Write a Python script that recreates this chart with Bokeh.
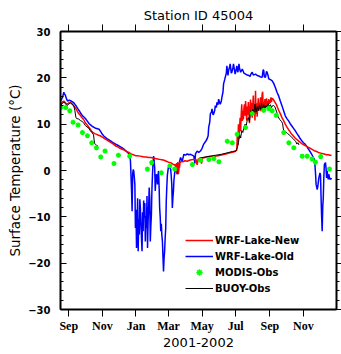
from bokeh.plotting import figure
from bokeh.models import Range1d, LinearAxis, FixedTicker, SingleIntervalTicker, Legend, LegendItem
from bokeh.embed import file_html
from bokeh.resources import INLINE

# x = day number counted from 2001-01-01 (day 365 = 2002-01-01)
month_days = [243, 304, 365, 424, 485, 546, 608, 669]
month_labels = ["Sep", "Nov", "Jan", "Mar", "May", "Jul", "Sep", "Nov"]
y_ticks = [-30, -20, -10, 0, 10, 20, 30]
y_tick_labels = ["\u221230", "\u221220", "\u221210", "0", "10", "20", "30"]

wrf_new = [
    (228, 14.3), (231, 14.7), (234, 15.0), (237, 14.6), (240, 14.3), (243, 14.6), (246, 14.7),
    (249, 14.4), (252, 14.0), (255, 13.5), (258, 12.9), (261, 12.3), (264, 11.9), (267, 11.4),
    (270, 11.0), (273, 10.3), (276, 9.9), (279, 9.4), (282, 8.9), (285, 8.4), (288, 8.1),
    (291, 7.9), (294, 7.8), (297, 7.6), (300, 7.5), (304, 7.2), (308, 6.9), (312, 6.6),
    (316, 6.3), (320, 6.0), (324, 5.7), (328, 5.3), (332, 5.1), (336, 4.8), (340, 4.6),
    (344, 4.4), (348, 4.1), (352, 3.9), (356, 3.6), (360, 3.4), (364, 3.2), (368, 3.2),
    (372, 3.1), (376, 3.0), (380, 2.9), (384, 2.9), (388, 2.8), (392, 2.8), (396, 2.7),
    (400, 2.6), (404, 2.5), (408, 2.4), (412, 2.3), (416, 2.2), (420, 2.0), (424, 1.8),
    (428, 1.7), (432, 1.4), (436, 1.1), (437, 1.4), (438, -0.5), (439, 1.6), (440, 0.2),
    (441, 1.8), (442, -0.8), (443, 1.6), (444, 0.6), (445, 1.8), (447, 1.9), (450, 1.9),
    (454, 2.1), (458, 2.0), (462, 2.2), (466, 2.3), (470, 2.4), (474, 2.4), (476, 1.2),
    (478, 2.5), (482, 2.6), (484, 1.5), (486, 2.7), (490, 2.8), (494, 2.9), (498, 3.0),
    (502, 3.0), (506, 3.1), (510, 3.1), (514, 3.2), (518, 3.3), (522, 3.4), (526, 3.5),
    (530, 3.6), (534, 3.8), (538, 3.9), (542, 4.0), (546, 4.2), (548, 4.4), (549, 7.8),
    (550, 5.5), (551, 10.0), (552, 6.8), (553, 9.0), (554, 11.4), (555, 8.5), (556, 12.0),
    (557, 14.3), (558, 10.7), (559, 12.9), (560, 11.0), (561, 13.5), (562, 14.3), (563, 11.8),
    (564, 15.0), (565, 12.8), (566, 10.8), (567, 13.8), (568, 12.0), (569, 14.8), (570, 12.5),
    (571, 10.2), (572, 13.2), (573, 15.3), (574, 12.0), (575, 14.6), (576, 11.4), (577, 13.9),
    (578, 16.2), (579, 12.6), (580, 14.2), (581, 10.8), (582, 17.2), (583, 12.2), (584, 14.5),
    (585, 11.6), (586, 13.8), (587, 15.6), (588, 12.9), (589, 14.6), (590, 13.0), (591, 15.8),
    (592, 12.8), (593, 14.0), (594, 16.5), (595, 17.0), (596, 12.6), (597, 14.8), (598, 13.4),
    (599, 15.4), (600, 13.6), (601, 14.6), (602, 15.6), (603, 13.8), (604, 15.0), (605, 14.2),
    (606, 15.4), (607, 14.4), (608, 15.2), (609, 14.6), (610, 15.8), (611, 14.8), (612, 15.6),
    (614, 15.4), (616, 15.0), (618, 14.6), (620, 14.2), (622, 13.6), (624, 13.0), (626, 12.5),
    (628, 12.0), (630, 11.4), (632, 11.0), (634, 10.5), (636, 10.0), (638, 9.6), (640, 9.2),
    (642, 8.8), (644, 8.5), (646, 8.1), (648, 7.8), (651, 7.4), (654, 7.0), (657, 6.7),
    (660, 6.4), (663, 6.1), (666, 5.8), (669, 5.6), (672, 5.4), (675, 5.2), (678, 5.0),
    (681, 4.8), (684, 4.6), (687, 4.4), (690, 4.2), (693, 4.1), (696, 3.9), (699, 3.8),
    (702, 3.7), (705, 3.6), (708, 3.5), (711, 3.4), (714, 3.4), (717, 3.3), (720, 3.3),
]

wrf_old = [
    (228, 15.0), (230, 15.4), (232, 15.9), (234, 16.9), (235, 16.6), (237, 16.2), (239, 15.4),
    (241, 15.0), (244, 15.2), (247, 15.0), (250, 14.8), (253, 14.5), (256, 14.0), (259, 13.4),
    (262, 12.9), (265, 12.3), (268, 11.8), (271, 11.5), (274, 11.1), (277, 10.6), (280, 10.1),
    (283, 9.8), (286, 9.5), (289, 9.3), (292, 9.1), (295, 9.0), (298, 8.9), (301, 8.4),
    (304, 7.8), (307, 7.4), (310, 7.1), (313, 6.8), (316, 6.6), (319, 6.4), (322, 6.1),
    (325, 5.9), (328, 5.7), (331, 5.5), (334, 5.3), (337, 5.1), (340, 4.9), (343, 4.6),
    (346, 4.3), (349, 4.0), (352, 3.6), (354, 3.4), (355, 2.0), (356, -1.2), (357, -4.4),
    (358, -8.8), (359, -0.8), (360, 0.2), (361, -0.1), (362, -1.5), (363, -3.0), (364, -12.4),
    (365, -8.5), (366, -16.7), (367, -12.4), (368, -6.0), (369, -17.4), (370, -10.5),
    (371, -13.8), (372, -6.2), (373, -8.1), (374, -11.7), (375, -14.5), (376, -17.4),
    (377, -9.0), (378, -13.1), (379, -6.5), (380, -10.2), (381, -7.0), (382, -15.3),
    (383, -9.8), (384, -12.4), (385, -5.5), (386, -16.7), (387, -11.0), (388, -8.1),
    (389, -3.7), (390, -6.0), (391, -15.3), (392, -12.0), (393, -9.5), (394, -4.0),
    (395, -0.8), (396, 1.5), (397, 3.1), (398, 2.1), (399, 0.5), (400, -4.4), (401, -2.0),
    (402, -0.8), (403, -1.5), (404, -3.0), (405, -1.0), (406, -0.1), (407, -3.5), (408, -8.1),
    (409, -10.0), (410, -13.1), (411, -11.5), (412, -14.0), (413, -15.3), (414, -18.5),
    (415, -21.8), (416, -19.0), (417, -17.4), (418, -14.5), (419, -12.4), (420, -6.6),
    (421, -3.5), (422, -1.0), (423, -0.1), (424, 0.8), (425, 1.0), (426, 0.6), (427, 0.5),
    (428, 0.3), (429, -1.2), (430, -3.0), (431, -8.1), (432, -6.0), (433, -4.4), (434, -2.0),
    (435, -0.8), (436, 0.2), (437, 0.6), (438, 1.0), (439, -0.5), (440, -0.8), (441, 0.5),
    (442, -0.5), (443, 1.3), (445, 2.4), (446, 2.8), (448, 2.2), (449, 2.1), (451, 3.0),
    (452, 3.5), (455, 3.3), (458, 3.6), (461, 3.4), (464, 3.5), (467, 3.3), (470, 3.1),
    (472, 1.5), (473, 3.6), (476, 4.2), (479, 3.9), (482, 4.2), (485, 4.8), (488, 5.7),
    (491, 6.2), (494, 6.8), (496, 7.5), (497, 9.3), (499, 10.5), (500, 12.2), (502, 12.6),
    (503, 13.3), (505, 12.0), (506, 12.2), (508, 13.0), (509, 14.0), (511, 13.6), (512, 14.7),
    (514, 14.2), (515, 15.4), (517, 14.6), (518, 14.3), (520, 15.0), (521, 15.8), (523, 17.0),
    (524, 18.7), (526, 19.6), (527, 20.1), (529, 21.0), (530, 22.6), (532, 20.5), (533, 21.5),
    (535, 22.4), (536, 23.0), (538, 21.0), (539, 21.2), (541, 22.2), (542, 23.0), (544, 21.5),
    (545, 20.8), (547, 21.8), (548, 22.6), (550, 21.2), (552, 23.0), (553, 22.0), (555, 21.2),
    (558, 21.9), (561, 21.0), (564, 20.8), (567, 20.6), (570, 20.5), (572, 20.3), (574, 20.9),
    (576, 21.2), (578, 20.6), (580, 20.7), (582, 20.8), (585, 20.5), (588, 20.4), (591, 20.2),
    (594, 20.1), (596, 21.8), (597, 21.5), (598, 20.2), (600, 20.1), (602, 21.4), (603, 21.2),
    (605, 20.4), (606, 19.8), (609, 19.6), (612, 19.4), (615, 18.8), (618, 17.9), (621, 16.9),
    (624, 16.1), (627, 15.0), (630, 14.0), (633, 12.9), (636, 11.8), (639, 11.2), (642, 10.7),
    (645, 10.1), (648, 9.6), (651, 9.1), (654, 8.6), (657, 8.0), (660, 7.5), (663, 6.9),
    (666, 6.4), (669, 6.0), (672, 5.7), (675, 5.2), (678, 4.6), (681, 4.1), (684, 3.5),
    (687, 2.8), (689, 2.4), (690, 1.0), (691, -0.8), (692, -3.0), (694, -4.1), (695, -3.5),
    (697, -1.6), (699, -0.5), (700, -1.0), (701, -5.9), (702, -10.0), (703, -13.1),
    (704, -8.0), (705, -5.9), (706, -1.5), (707, 1.3), (709, 1.7), (710, 0.5), (711, -1.6),
    (712, -0.1), (714, -1.9), (715, -0.8), (717, -1.9), (719, -1.7), (720, -1.9),
]

modis_obs = [
    (228.5, 13.6), (237.6, 13.6), (244.8, 12.9), (250.8, 10.4), (259.9, 9.8), (267.8, 8.2),
    (276.9, 7.5), (284.7, 6.0), (293.2, 4.9), (301.0, 2.9), (308.8, 4.2), (325.1, 1.5),
    (333.1, 3.3), (353.6, 3.1), (385.7, 0.3), (393.5, 1.7), (411.0, -0.5), (426.6, 1.0),
    (435.2, 0.3), (467.3, 1.3), (482.3, 2.2), (497.4, 2.4), (506.4, 2.6), (515.5, 1.9),
    (530.7, 6.3), (539.8, 6.0), (548.8, 7.8), (563.9, 9.3), (576.0, 12.3), (597.0, 13.0),
    (606.0, 13.4), (612.2, 12.9), (619.6, 11.9), (633.3, 8.2), (642.4, 6.0), (651.5, 4.9),
    (666.7, 3.1), (675.8, 3.1), (684.8, 2.5), (690.8, 1.8), (700.4, 3.0), (716.2, 0.3),
]

buoy_2001 = [
    (228, 14.0), (231, 14.4), (234, 14.8), (237, 14.4), (240, 14.0), (243, 14.3), (246, 14.6),
    (249, 14.3), (252, 14.0), (254, 13.0), (256, 11.4), (258, 11.2), (261, 11.1), (264, 10.8),
    (267, 10.6), (270, 10.3), (273, 9.7), (276, 9.4), (279, 9.2), (282, 8.6), (285, 8.2),
    (288, 7.7), (289, 6.6), (290, 5.8), (292, 5.6), (294, 5.4), (296, 5.3),
]

buoy_2002 = [
    (480, 2.7), (490, 2.9), (500, 3.1), (510, 3.3), (520, 3.5), (530, 3.8), (540, 4.1),
    (546, 4.2), (549, 4.9), (551, 6.0), (553, 7.8), (555, 7.0), (557, 8.6), (559, 8.2),
    (561, 9.4), (563, 10.0), (565, 9.5), (567, 11.0), (569, 11.4), (571, 10.5), (573, 12.9),
    (575, 11.8), (577, 13.2), (579, 12.4), (581, 14.3), (583, 12.6), (585, 13.8), (587, 12.9),
    (589, 14.2), (591, 13.2), (593, 14.5), (595, 13.0), (597, 14.2), (599, 13.4), (601, 14.0),
    (603, 13.6), (605, 14.4), (607, 13.8), (609, 14.2), (611, 13.6), (613, 14.0), (615, 14.0),
    (617, 13.8), (620, 12.8), (623, 11.6), (626, 11.0), (629, 10.6), (631, 10.2), (633, 8.6),
    (636, 8.4), (640, 8.0), (643, 7.7), (646, 7.4), (649, 7.0), (652, 6.6), (655, 6.3),
    (657, 5.7), (659, 6.0), (661, 5.5),
]


def xs(series):
    return [d for d, _ in series]


def ys(series):
    return [v for _, v in series]


p = figure(width=341, height=354, output_backend="svg", toolbar_location=None,
           x_range=Range1d(228, 729), y_range=Range1d(-30, 30),
           min_border_left=60, min_border_right=5, min_border_top=31, min_border_bottom=45,
           title="Station ID 45004", background_fill_color="white", border_fill_color="white")

p.title.align = "center"
p.title.text_font = "DejaVu Sans"
p.title.text_font_size = "13px"
p.title.text_font_style = "normal"
p.title.text_color = "black"
p.title.standoff = 4
p.outline_line_color = "black"
p.xgrid.visible = False
p.ygrid.visible = False

xb = p.xaxis[0]
xb.ticker = FixedTicker(ticks=month_days, minor_ticks=[])
xb.major_label_overrides = {d: s for d, s in zip(month_days, month_labels)}
xb.major_tick_in = 0
xb.major_tick_out = 7
xb.minor_tick_in = 0
xb.minor_tick_out = 0
xb.major_label_standoff = 2
xb.major_label_text_font = "Liberation Serif"
xb.major_label_text_font_size = "12px"
xb.major_label_text_font_style = "bold"
xb.major_label_text_color = "black"
xb.axis_label = "2001-2002"
xb.axis_label_text_font = "DejaVu Sans"
xb.axis_label_text_font_size = "13px"
xb.axis_label_text_font_style = "normal"
xb.axis_label_text_color = "black"
xb.axis_label_standoff = 2
xb.axis_line_width = 2

xt = LinearAxis(ticker=FixedTicker(ticks=month_days, minor_ticks=[]),
                major_label_overrides={d: "" for d in month_days},
                major_label_text_font_size="1px", major_label_standoff=0,
                major_tick_in=0, major_tick_out=7, minor_tick_in=0, minor_tick_out=0,
                axis_line_width=2)
p.add_layout(xt, "above")

yl = p.yaxis[0]
yl.ticker = SingleIntervalTicker(interval=10, num_minor_ticks=5)
yl.major_label_overrides = {v: s for v, s in zip(y_ticks, y_tick_labels)}
yl.major_tick_in = 6
yl.major_tick_out = 0
yl.minor_tick_in = 3
yl.minor_tick_out = 0
yl.major_label_standoff = 10
yl.major_label_text_font = "DejaVu Sans"
yl.major_label_text_font_size = "10px"
yl.major_label_text_font_style = "bold"
yl.major_label_text_color = "black"
yl.axis_label = "Surface Temperature (\u00b0C)"
yl.axis_label_text_font = "DejaVu Sans"
yl.axis_label_text_font_size = "13.5px"
yl.axis_label_text_font_style = "normal"
yl.axis_label_text_color = "black"
yl.axis_label_standoff = 2
yl.axis_line_width = 2

yr = LinearAxis(ticker=SingleIntervalTicker(interval=10, num_minor_ticks=5),
                major_label_overrides={v: "" for v in y_ticks},
                major_label_text_font_size="1px", major_label_standoff=0,
                major_tick_in=0, major_tick_out=5, minor_tick_in=0, minor_tick_out=3,
                axis_line_width=2)
p.add_layout(yr, "right")

r_old = p.line(xs(wrf_old), ys(wrf_old), line_color="#0000ff", line_width=1.5)
r_new = p.line(xs(wrf_new), ys(wrf_new), line_color="#ff0000", line_width=1.5)
r_b1 = p.line(xs(buoy_2001), ys(buoy_2001), line_color="black", line_width=1)
r_b2 = p.line(xs(buoy_2002), ys(buoy_2002), line_color="black", line_width=1)
r_mod = p.scatter(xs(modis_obs), ys(modis_obs), marker="asterisk", size=5,
                  line_color="#00ff00", line_width=1.5)

legend = Legend(items=[
    LegendItem(label="WRF-Lake-New", renderers=[r_new]),
    LegendItem(label="WRF-Lake-Old", renderers=[r_old]),
    LegendItem(label="MODIS-Obs", renderers=[r_mod]),
    LegendItem(label="BUOY-Obs", renderers=[r_b1]),
], location=(125, 13), padding=0, margin=0, spacing=0, glyph_width=28, glyph_height=16,
    label_height=16, label_standoff=2, label_text_font="DejaVu Sans",
    label_text_font_size="10px", label_text_font_style="bold", label_text_color="black",
    background_fill_alpha=0, border_line_alpha=0)
p.add_layout(legend)

open("out.html", "w").write(file_html(p, INLINE))
